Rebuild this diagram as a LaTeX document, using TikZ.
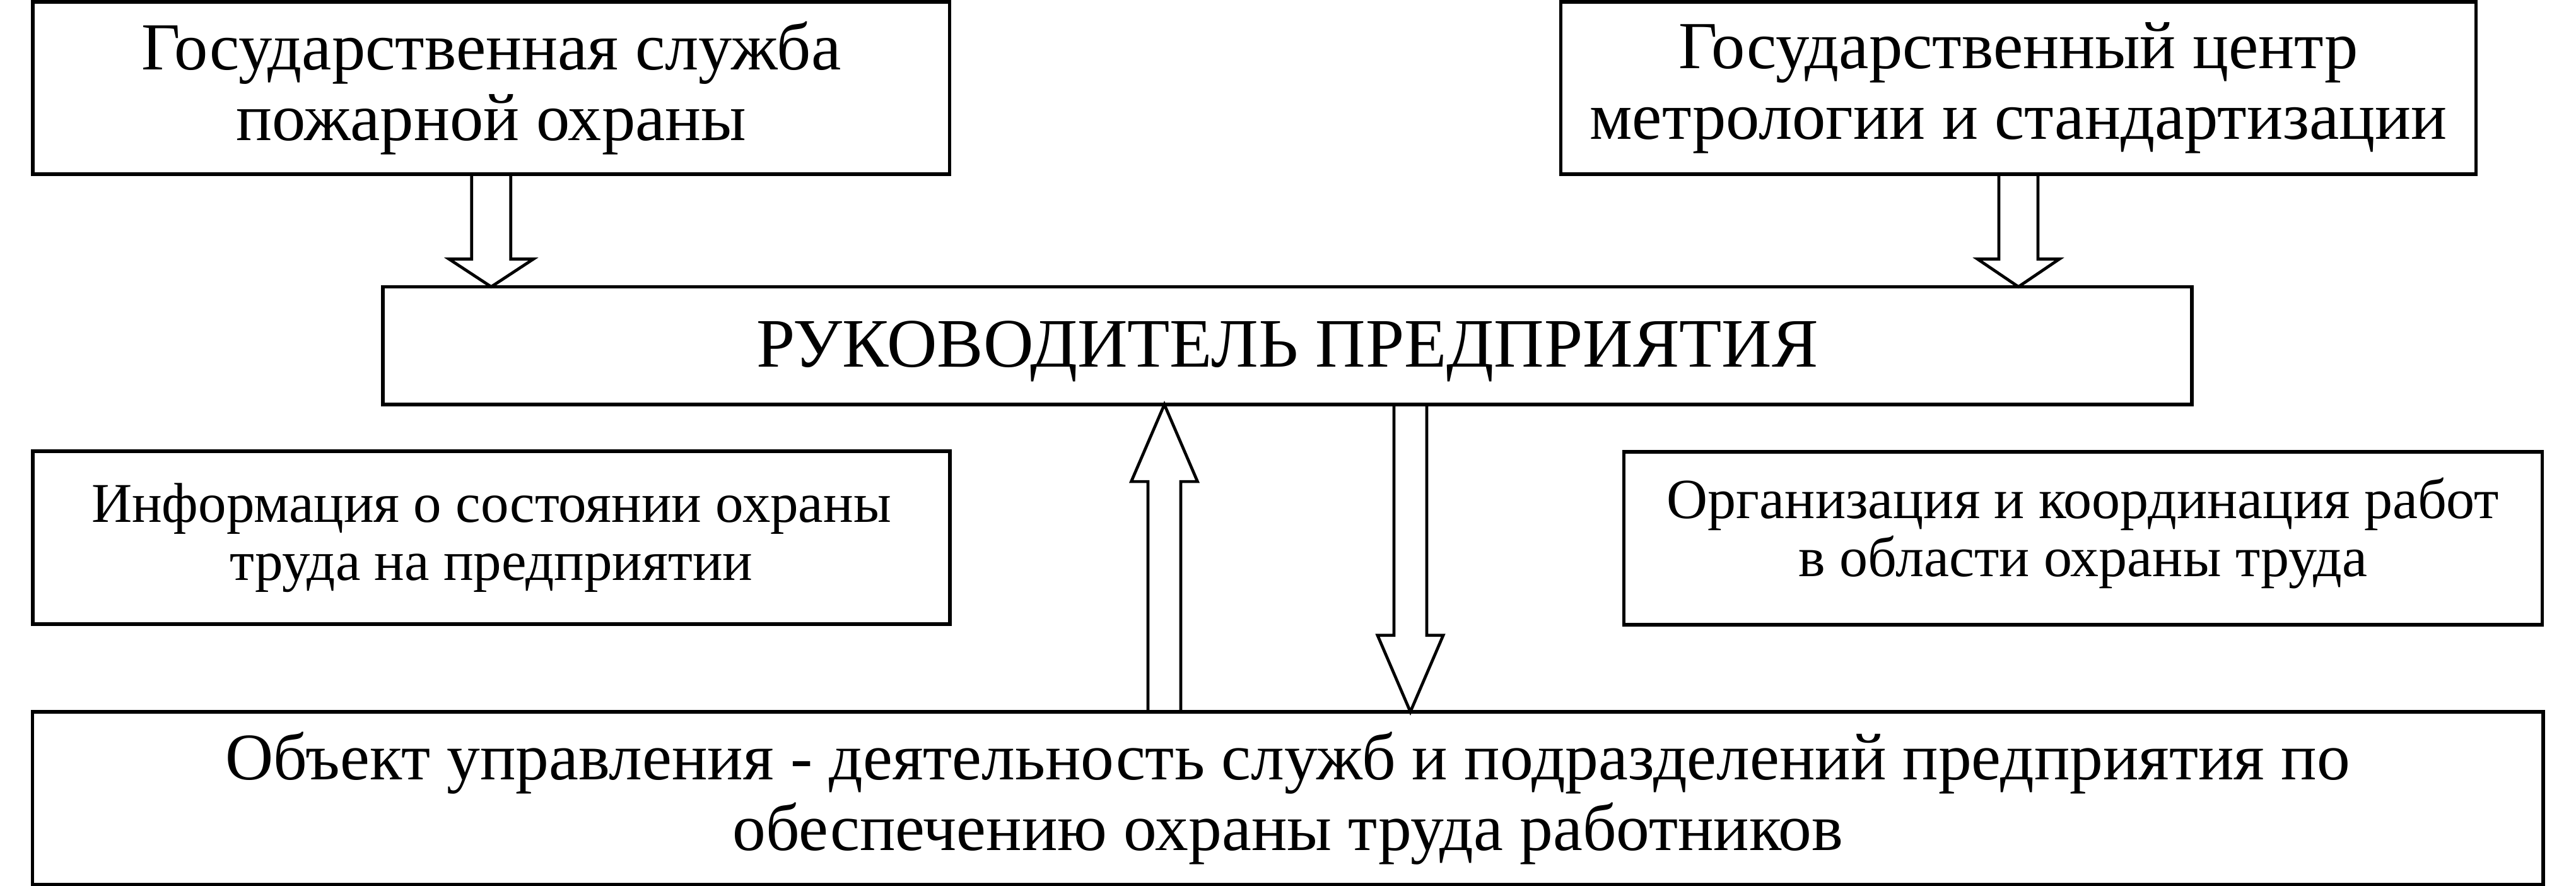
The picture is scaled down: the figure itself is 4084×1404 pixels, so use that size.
\documentclass[tikz,border=0pt]{standalone}
\usepackage{fontspec}
\setmainfont{Liberation Serif}
\usetikzlibrary{calc}
\tikzset{
  box/.style={draw, line width=1.55pt, inner sep=0pt, outer sep=0pt, align=center, anchor=center},
  bigtext/.style={font=\fontsize{30.3}{31.9}\selectfont},
  smalltext/.style={font=\fontsize{25.3}{26.2}\selectfont},
  harrow/.style={draw, line width=1.34pt, line join=miter, miter limit=10}
}
\newcommand\hollowarrow[5]{%
  \coordinate (ha-s) at (#1);
  \coordinate (ha-e) at (#2);
  \coordinate (ha-b) at ($(ha-e)!#5!(ha-s)$);
  \draw[harrow] ($(ha-s)!#3!90:(ha-e)$) -- ($(ha-b)!#3!90:(ha-e)$) -- ($(ha-b)!#4!90:(ha-e)$)
    -- (ha-e) -- ($(ha-b)!#4!-90:(ha-e)$) -- ($(ha-b)!#3!-90:(ha-e)$) -- ($(ha-s)!#3!-90:(ha-e)$);}
\begin{document}
\begin{tikzpicture}[x=0.01cm, y=-0.01cm]
\useasboundingbox (0,0) rectangle (4084,1404);
\node[box, bigtext, minimum width=14.525cm, minimum height=2.73cm] (b1) at (778.75,139.5)
  {Государственная служба\\пожарной охраны};
\node[box, bigtext, minimum width=14.5cm, minimum height=2.73cm] (b2) at (3200,139.5)
  {Государственный центр\\метрологии и стандартизации};
\node[box, font=\fontsize{31.3}{32}\selectfont, minimum width=28.66cm, minimum height=1.865cm] (mgr) at (2041,547.75)
  {\rule{0pt}{0.9cm}РУКОВОДИТЕЛЬ ПРЕДПРИЯТИЯ};
\node[box, smalltext, minimum width=14.53cm, minimum height=2.74cm] (info) at (779,852)
  {Информация о состоянии охраны\\труда на предприятии};
\node[box, font=\fontsize{25.6}{26.2}\selectfont, minimum width=14.55cm, minimum height=2.74cm] (org) at (3302.5,853)
  {Организация и координация работ\\в области охраны труда\rule[-0.36cm]{0pt}{0pt}};
\node[box, font=\fontsize{30}{31.9}\selectfont, minimum width=39.785cm, minimum height=2.735cm] (obj) at (2041.75,1264.75)
  {Объект управления - деятельность служб и подразделений предприятия по\\обеспечению охраны труда работников};
\coordinate (ux) at (1846,0);
\coordinate (dx) at (2236,0);
\hollowarrow{b1.south}{mgr.north -| b1.south}{0.31cm}{0.67cm}{0.44cm}
\hollowarrow{b2.south}{mgr.north -| b2.south}{0.31cm}{0.65cm}{0.44cm}
\hollowarrow{obj.north -| ux}{mgr.south -| ux}{0.26cm}{0.525cm}{1.22cm}
\hollowarrow{mgr.south -| dx}{obj.north -| dx}{0.26cm}{0.52cm}{1.21cm}
\end{tikzpicture}
\end{document}
